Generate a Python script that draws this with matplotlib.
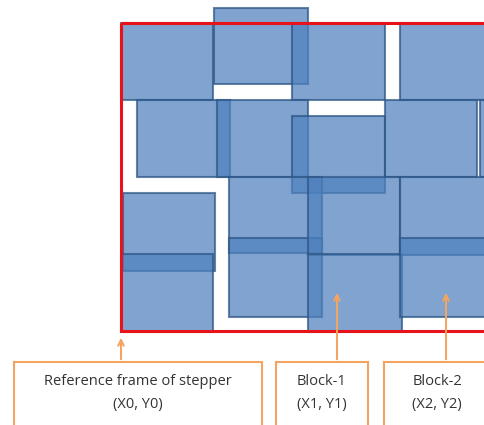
import matplotlib.pyplot as plt
from matplotlib.patches import Rectangle

# blocks as (x, y, w, h) in picture pixels (y downwards)
blocks = [
    (121, 23, 92, 77), (214, 8, 94, 76), (292, 23, 93, 77), (400, 23, 90, 77),
    (137, 100, 93, 77), (217, 100, 91, 77), (292, 116, 93, 77), (385, 100, 92, 77),
    (480, 100, 20, 77),
    (123, 193, 92, 78), (121, 254, 92, 78), (229, 177, 93, 76), (229, 238, 93, 79),
    (308, 177, 92, 78), (308, 254, 94, 78), (400, 177, 90, 78), (400, 238, 90, 79),
]
frame = (121, 23, 380, 308)
labels = [("Reference frame of stepper\n(X0, Y0)", 14, 262, 121, 335),
          ("Block-1\n(X1, Y1)", 276, 368, 337, 290),
          ("Block-2\n(X2, Y2)", 384, 490, 446, 290)]

fig = plt.figure(figsize=(4.84, 4.25), dpi=100)
ax = fig.add_axes([0, 0, 1, 1])
ax.set_xlim(0, 484)
ax.set_ylim(425, 0)
ax.axis('off')

for x, y, w, h in blocks:
    ax.add_patch(Rectangle((x, y), w, h, facecolor='#4f81bd', alpha=0.72,
                           edgecolor='#2c5585', lw=1.5))
ax.add_patch(Rectangle(frame[:2], frame[2], frame[3], fill=False,
                       edgecolor='#e8121a', lw=2.2, zorder=5))

for text, x0, x1, ax_x, tip in labels:
    ax.add_patch(Rectangle((x0, 362), x1 - x0, 70, facecolor='white',
                           edgecolor='#f4a460', lw=1.5, zorder=6))
    ax.annotate('', xy=(ax_x, tip), xytext=(ax_x, 362), zorder=7,
                arrowprops=dict(arrowstyle='->', color='#f4a460', lw=1.5))
    ax.text((x0 + x1) / 2, 393, text, ha='center', va='center', fontsize=10.5,
            linespacing=1.7, color='#333333', family='Open Sans', zorder=8)

fig.savefig('out.png')
